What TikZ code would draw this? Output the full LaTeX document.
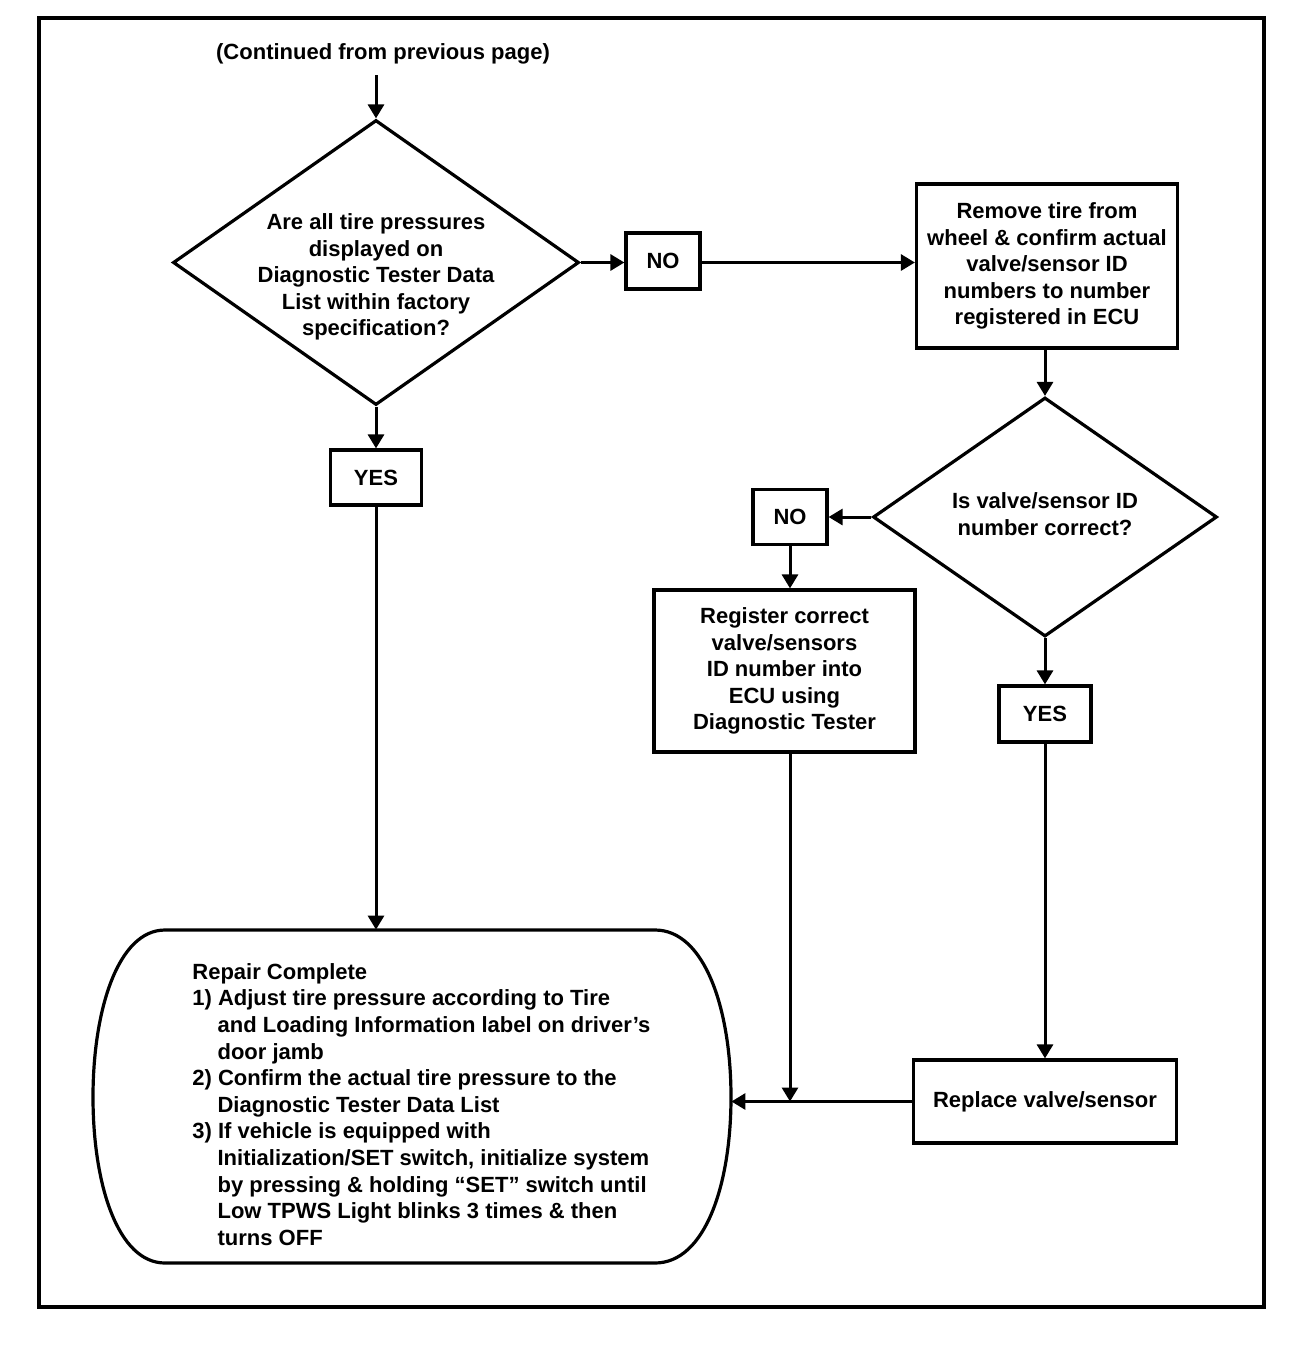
\documentclass[tikz,border=0pt]{standalone}
\usepackage{fontspec}
\setmainfont{Liberation Sans}
\usetikzlibrary{arrows.meta,shapes.geometric}
\tikzset{bx/.append style={draw,rectangle,line width=1.6pt,inner sep=0pt,align=center}}
\tikzset{dm/.append style={draw,diamond,line width=1.6pt,inner sep=0pt}}
\tikzset{tx/.append style={align=center,inner sep=0pt}}
\tikzset{ln/.append style={line width=1.5pt,-{Triangle[width=8pt,length=7pt]}}}
\newcommand{\ind}{\hspace*{12.6pt}}

\begin{document}
\begin{tikzpicture}[x=0.5pt,y=-0.5pt,font=\fontsize{11}{13.3}\selectfont\bfseries]
                \useasboundingbox (0,0) rectangle (1312,1346);
                \draw[line width=1.6pt] (39,18) rectangle (1264,1307);
                % left branch
                \node[tx] (cont) at (383,54) {(Continued from previous page)};
                \coordinate (top) at (376,75);
                \node[dm,minimum width=203pt,minimum height=142.5pt] (q1) at (376,262.5) {};
                \node[tx] (q1t) at (376,277) {Are all tire pressures\\displayed on\\Diagnostic Tester Data\\List within factory\\specification?};
                \node[bx,minimum width=45.5pt,minimum height=27.5pt] (yes1) at (376,477.5) {YES};
                \node[bx,minimum width=37pt,minimum height=28pt] (no1) at (663,261) {NO};
                % right branch
                \node[bx,minimum width=130.5pt,minimum height=82pt] (rem) at (1047,266) {Remove tire from\\wheel \& confirm actual\\valve/sensor ID\\numbers to number\\registered in ECU};
                \node[dm,minimum width=172pt,minimum height=119.5pt] (q2) at (1045,517) {};
                \node[tx] (q2t) at (1045,514) {Is valve/sensor ID\\number correct?};
                \node[bx,minimum width=37pt,minimum height=27.5pt] (no2) at (790,517) {NO};
                \node[bx,minimum width=130.5pt,minimum height=81pt] (reg) at (784.5,671) {Register correct\\valve/sensors\\ID number into\\ECU using\\Diagnostic Tester};
                \node[bx,minimum width=46pt,minimum height=28pt] (yes2) at (1045,714) {YES};
                \node[bx,minimum width=131.5pt,minimum height=41.5pt] (rep) at (1045,1101.5) {Replace valve/sensor};
                % end
                \node[minimum width=319pt,minimum height=166.5pt,inner sep=0pt] (done) at (412,1096.5) {};
                \draw[line width=1.6pt] (165,930) -- (655,930) .. controls (705,930) and (731,1010) .. (731,1097)
                    .. controls (731,1185) and (705,1263) .. (655,1263) -- (165,1263)
                    .. controls (118,1263) and (93,1185) .. (93,1097) .. controls (93,1010) and (118,930) .. (165,930) -- cycle;
                \node[anchor=north west,align=left,inner sep=0pt] (donet) at (192,963) {Repair Complete\\
                    1) Adjust tire pressure according to Tire\\
                    \ind and Loading Information label on driver's\\
                    \ind door jamb\\
                    2) Confirm the actual tire pressure to the\\
                    \ind Diagnostic Tester Data List\\
                    3) If vehicle is equipped with\\
                    \ind Initialization/SET switch, initialize system\\
                    \ind by pressing \& holding ``SET'' switch until\\
                    \ind Low TPWS Light blinks 3 times \& then\\
                    \ind turns OFF};
                \coordinate (join) at (no2 |- rep.west);
                % connectors
                \draw[ln] (top) -- (q1.north);
                \draw[ln] (q1.south) -- (yes1.north);
                \draw[ln] (yes1.south) -- (yes1.south |- done.north);
                \draw[ln] (q1.east) -- (q1.east -| no1.west);
                \draw[ln] (no1.east |- q1.east) -- (q1.east -| rem.west);
                \draw[ln] (rem.south -| q2.north) -- (q2.north);
                \draw[ln] (q2.west) -- (no2.east);
                \draw[ln] (no2.south) -- (no2.south |- reg.north);
                \draw[ln] (q2.south) -- (yes2.north);
                \draw[ln] (yes2.south) -- (yes2.south |- rep.north);
                \draw[ln] (rep.west) -- (rep.west -| done.east);
                \draw[ln] (reg.south -| no2) -- (join);
            \end{tikzpicture}
\end{document}
